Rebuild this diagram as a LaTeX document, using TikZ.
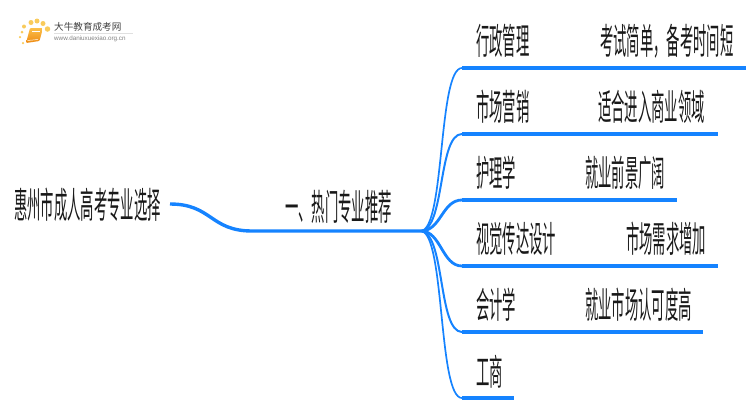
\documentclass[tikz,border=0pt]{standalone}
\usepackage{fontspec}
\setmainfont{Liberation Sans}
\newfontfamily\cjkslim[FakeStretch=0.37]{Noto Sans CJK SC}
\newfontfamily\cjklogo{Noto Sans CJK SC}
\definecolor{mapblue}{HTML}{1583FF}
\definecolor{bookorange}{HTML}{EE8A12}
\definecolor{booklight}{HTML}{FBC04A}
\definecolor{dotyellow}{HTML}{F9CB5C}
\tikzset{
    maplabel/.style={inner sep=0pt,anchor=west,text=black!90,font=\cjkslim\fontsize{36}{36}\selectfont},
    trunk/.style={draw=mapblue,line width=3.4pt},
    twig/.style={draw=mapblue,line width=#1},
    rule/.style={draw=mapblue,line width=3.6pt},
    sundot/.style={circle,fill=dotyellow,inner sep=0pt,minimum size=#1}
}
\begin{document}
\begin{tikzpicture}[x=1pt,y=-1pt]
    \useasboundingbox (0,0) rectangle (750,410);
    % logo
    \node[sundot=2.5pt] (d1) at (20,37) {};
    \node[sundot=3pt] (d2) at (22,32) {};
    \node[sundot=4pt] (d3) at (24,26.500) {};
    \node[sundot=5pt] (d4) at (31,22.500) {};
    \node[sundot=5pt] (d5) at (37,21) {};
    \node[sundot=5pt] (d6) at (43,23.500) {};
    \node[sundot=5.5pt] (d7) at (47.500,29) {};
    \node[sundot=2.5pt] (d8) at (23,43) {};
    \shade[top color=booklight,bottom color=bookorange,rounded corners=1pt] (30,28) -- (43,28) -- (39.500,41) -- (26,43) -- cycle;
    \draw[white,line width=0.6pt] (32,31) -- (40,31);
    \draw[white,line width=0.5pt] (27.500,40.500) -- (38,39.500);
    \node[inner sep=0pt,anchor=west,text=black!75,font=\cjklogo\fontsize{9.6}{10}\selectfont] (brand) at (54,27) {大牛教育成考网};
    \node[inner sep=0pt,anchor=west,text=black!50,font=\fontsize{6.3}{7}\selectfont] (site) at (54,38.500) {www.daniuxuexiao.org.cn};
    \draw[black!12,line width=0.5pt] (54,33) -- (133,33);
    % labels
    \node[maplabel] (root) at (14,205) {惠州市成人高考专业选择};
    \node[maplabel] (topic) at (285,207) {一、热门专业推荐};
    \node[maplabel] (l1) at (476,41) {行政管理};
    \node[maplabel] (n1) at (600,41) {考试简单，备考时间短};
    \node[maplabel] (l2) at (476,107) {市场营销};
    \node[maplabel] (n2) at (598,107) {适合进入商业领域};
    \node[maplabel] (l3) at (476,173) {护理学};
    \node[maplabel] (n3) at (585,173) {就业前景广阔};
    \node[maplabel] (l4) at (476,239) {视觉传达设计};
    \node[maplabel] (n4) at (626,239) {市场需求增加};
    \node[maplabel] (l5) at (476,305) {会计学};
    \node[maplabel] (n5) at (585,305) {就业市场认可度高};
    \node[maplabel] (l6) at (476,372) {工商};
    % connectors
    \coordinate (start) at (170,204);
    \coordinate (bend) at (252,231);
    \coordinate (hub) at (421,231);
    \coordinate (a1) at (462,68); \coordinate (e1) at (746,68);
    \coordinate (a2) at (462,134); \coordinate (e2) at (718,134);
    \coordinate (a3) at (462,200); \coordinate (e3) at (677,200);
    \coordinate (a4) at (462,266); \coordinate (e4) at (718,266);
    \coordinate (a5) at (462,332); \coordinate (e5) at (703,332);
    \coordinate (a6) at (462,398); \coordinate (e6) at (514,398);
    \draw[trunk] (start) .. controls +(42,0) and +(-42,0) .. (bend) -- (hub);
    \draw[twig=1.7pt] (hub) .. controls +(24,-2) and +(-24,0) .. (a1);
    \draw[twig=2pt] (hub) .. controls +(24,-2) and +(-24,0) .. (a2);
    \draw[twig=2.8pt] (hub) .. controls +(20,0) and +(-20,0) .. (a3);
    \draw[twig=2.8pt] (hub) .. controls +(20,0) and +(-20,0) .. (a4);
    \draw[twig=2pt] (hub) .. controls +(24,2) and +(-24,0) .. (a5);
    \draw[twig=1.7pt] (hub) .. controls +(24,2) and +(-24,0) .. (a6);
    \draw[rule] (a1) -- (e1);
    \draw[rule] (a2) -- (e2);
    \draw[rule] (a3) -- (e3);
    \draw[rule] (a4) -- (e4);
    \draw[rule] (a5) -- (e5);
    \draw[rule] (a6) -- (e6);
\end{tikzpicture}
\end{document}
